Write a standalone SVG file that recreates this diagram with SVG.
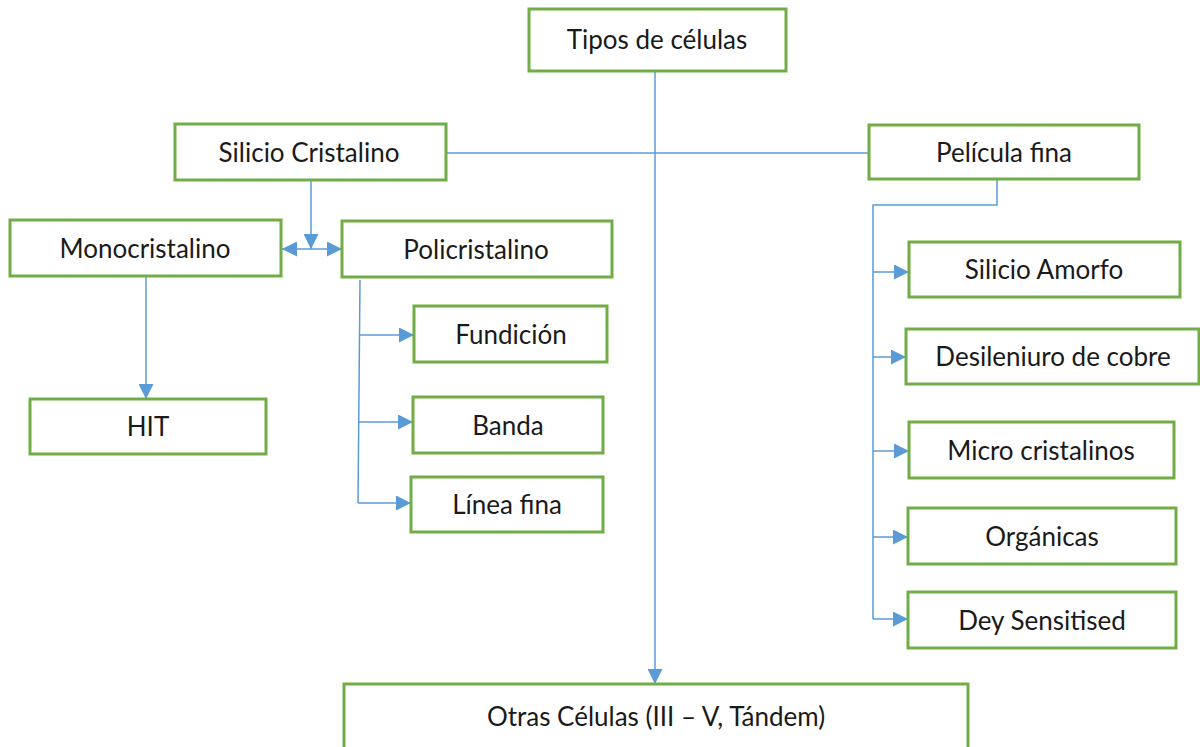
<svg xmlns="http://www.w3.org/2000/svg" width="1200" height="747" viewBox="0 0 1200 747">
<style>
.box{fill:#fff;stroke:#70AD47;stroke-width:3}
.lbl{font-family:Lato,"Open Sans","Liberation Sans",sans-serif;font-size:26px;fill:#1a1a1a;text-anchor:middle}
.con{fill:none;stroke:#5B9BD5;stroke-width:1.5}
</style>
<defs>
<marker id="arr" markerUnits="userSpaceOnUse" markerWidth="15" markerHeight="15" viewBox="0 0 15 15" refX="15" refY="7.5" orient="auto-start-reverse">
<path d="M0,0 L15,7.5 L0,15 z" fill="#5B9BD5"/>
</marker>
</defs>
<rect width="1200" height="747" fill="#fff"/>
<g id="connectors">
<line class="con" x1="655" y1="71" x2="655" y2="684" marker-end="url(#arr)"/>
<line class="con" x1="446" y1="153" x2="869" y2="153"/>
<line class="con" x1="311" y1="180" x2="311" y2="249" marker-end="url(#arr)"/>
<line class="con" x1="282" y1="249" x2="342" y2="249" marker-start="url(#arr)" marker-end="url(#arr)"/>
<line class="con" x1="146" y1="276" x2="146" y2="399" marker-end="url(#arr)"/>
<path class="con" d="M360,280 L358,503"/>
<line class="con" x1="360" y1="335" x2="414" y2="335" marker-end="url(#arr)"/>
<line class="con" x1="359" y1="422" x2="413" y2="422" marker-end="url(#arr)"/>
<line class="con" x1="358" y1="503" x2="411" y2="503" marker-end="url(#arr)"/>
<path class="con" d="M997,179 V205 H873 V619"/>
<line class="con" x1="873" y1="272" x2="909" y2="272" marker-end="url(#arr)"/>
<line class="con" x1="873" y1="357" x2="906" y2="357" marker-end="url(#arr)"/>
<line class="con" x1="873" y1="451" x2="909" y2="451" marker-end="url(#arr)"/>
<line class="con" x1="873" y1="537" x2="908" y2="537" marker-end="url(#arr)"/>
<line class="con" x1="873" y1="619" x2="908" y2="619" marker-end="url(#arr)"/>
</g>
<g id="n-tipos"><rect class="box" x="529" y="9" width="257" height="62"/><text class="lbl" x="657" y="49">Tipos de células</text></g>
<g id="n-silicio"><rect class="box" x="175" y="124" width="271" height="56"/><text class="lbl" x="309" y="162">Silicio Cristalino</text></g>
<g id="n-pelicula"><rect class="box" x="869" y="125" width="270" height="54"/><text class="lbl" x="1004" y="162">Película fina</text></g>
<g id="n-mono"><rect class="box" x="10" y="220" width="271" height="56"/><text class="lbl" x="145" y="258">Monocristalino</text></g>
<g id="n-poli"><rect class="box" x="342" y="221" width="270" height="56"/><text class="lbl" x="476" y="259">Policristalino</text></g>
<g id="n-hit"><rect class="box" x="30" y="399" width="236" height="55"/><text class="lbl" x="148" y="436">HIT</text></g>
<g id="n-fundicion"><rect class="box" x="414" y="306" width="193" height="56"/><text class="lbl" x="511" y="344">Fundición</text></g>
<g id="n-banda"><rect class="box" x="413" y="397" width="190" height="56"/><text class="lbl" x="508" y="435">Banda</text></g>
<g id="n-linea"><rect class="box" x="411" y="477" width="192" height="55"/><text class="lbl" x="507" y="514">Línea fina</text></g>
<g id="n-amorfo"><rect class="box" x="909" y="242" width="271" height="55"/><text class="lbl" x="1044" y="279">Silicio Amorfo</text></g>
<g id="n-desileniuro"><rect class="box" x="906" y="329" width="293" height="55"/><text class="lbl" x="1053" y="366">Desileniuro de cobre</text></g>
<g id="n-micro"><rect class="box" x="909" y="422" width="265" height="56"/><text class="lbl" x="1041" y="460">Micro cristalinos</text></g>
<g id="n-organicas"><rect class="box" x="908" y="508" width="268" height="56"/><text class="lbl" x="1042" y="546">Orgánicas</text></g>
<g id="n-dey"><rect class="box" x="908" y="592" width="268" height="56"/><text class="lbl" x="1042" y="630">Dey Sensitised</text></g>
<g id="n-otras"><rect class="box" x="344" y="684" width="624" height="80"/><text class="lbl" x="656" y="726">Otras Células (III – V, Tándem)</text></g>
</svg>
